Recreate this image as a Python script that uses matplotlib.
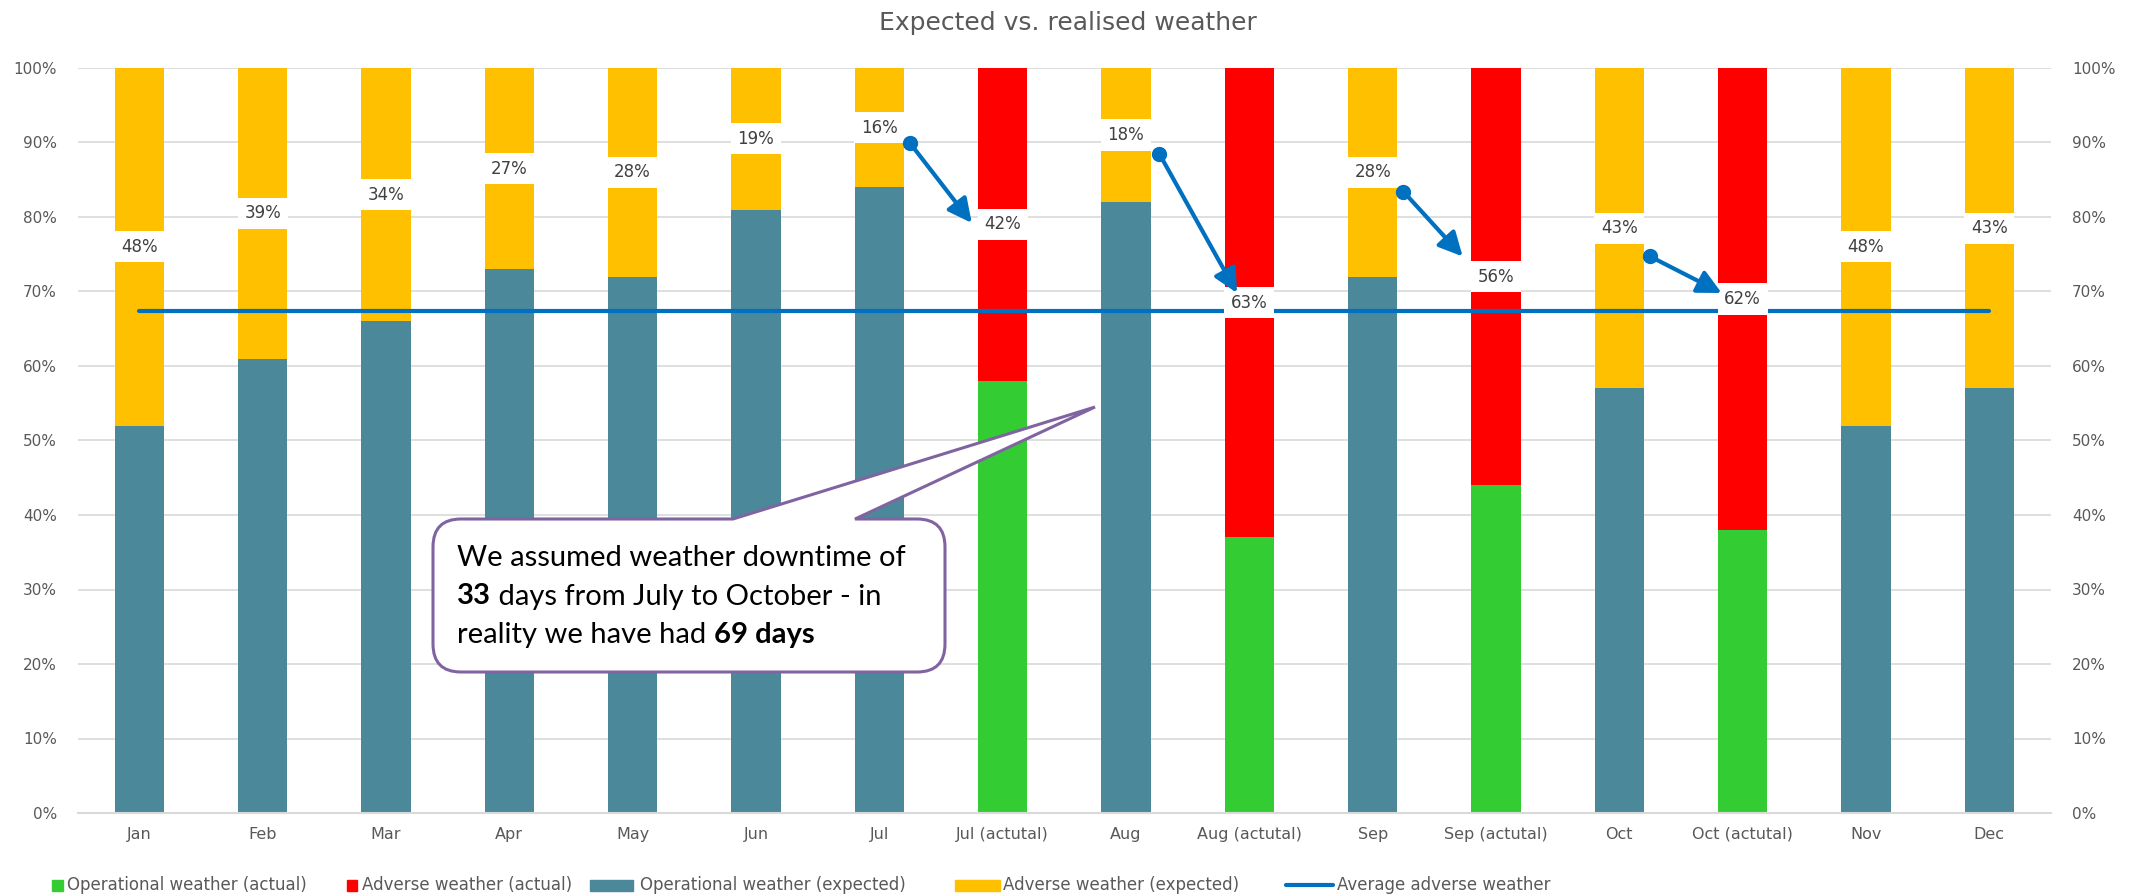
import matplotlib.pyplot as plt
import numpy as np
from matplotlib.patches import Rectangle, PathPatch
from matplotlib.path import Path
from matplotlib.lines import Line2D

categories = ['Jan', 'Feb', 'Mar', 'Apr', 'May', 'Jun', 'Jul', 'Jul (actutal)',
              'Aug', 'Aug (actutal)', 'Sep', 'Sep (actutal)', 'Oct',
              'Oct (actutal)', 'Nov', 'Dec']
adverse = [0.48, 0.39, 0.34, 0.27, 0.28, 0.19, 0.16, 0.42,
           0.18, 0.63, 0.28, 0.56, 0.43, 0.62, 0.48, 0.43]
actual = [c.endswith('(actutal)') for c in categories]
operational = [1 - a for a in adverse]

# hand drawn arrows: expected -> actual (data coords)
arrows = [(6.25, 0.899, 6.75, 0.792),
          (8.27, 0.885, 8.90, 0.698),
          (10.25, 0.834, 10.73, 0.747),
          (12.25, 0.747, 12.83, 0.698)]

C_OP, C_ADV = '#4A889A', '#FFC000'
C_OPA, C_ADVA = '#33CC33', '#FF0000'
C_LINE = '#0070C0'
GREY = '#595959'

W, H = 2135, 894
fig = plt.figure(figsize=(W / 100, H / 100), dpi=100)
ax = fig.add_axes([77.6 / W, 1 - 813 / H, (2051 - 77.6) / W, 745 / H])

def fpx(x, y):
    return x / W, 1 - y / H

x = np.arange(len(categories))
op_col = [C_OPA if a else C_OP for a in actual]
adv_col = [C_ADVA if a else C_ADV for a in actual]
ax.bar(x, operational, 0.4, color=op_col, zorder=2)
ax.bar(x, adverse, 0.4, bottom=operational, color=adv_col, zorder=2)

avg = 1 - np.mean([a for a, act in zip(adverse, actual) if not act])
ax.plot([x[0], x[-1]], [avg, avg], color=C_LINE, lw=3, zorder=3,
        solid_capstyle='round')

for i in x:
    ax.text(i, operational[i] + adverse[i] / 2, f'{adverse[i]:.0%}',
            ha='center', va='center', fontsize=12, color='#404040', zorder=4,
            bbox=dict(boxstyle='square,pad=0.4', fc='white', ec='none'))

for x0, y0, x1, y1 in arrows:
    ax.annotate('', xy=(x1, y1), xytext=(x0, y0), zorder=6,
                arrowprops=dict(arrowstyle='-|>,head_length=0.9,head_width=0.45',
                                mutation_scale=16, lw=3, color=C_LINE,
                                shrinkA=0, shrinkB=0))
    ax.plot(x0, y0, 'o', color=C_LINE, ms=10, zorder=6)

ax.set_xlim(-0.5, len(categories) - 0.5)
ax.set_ylim(0, 1)
ax.set_xticks(x)
ax.set_xticklabels(categories, fontsize=11.5, color=GREY)
yt = np.linspace(0, 1, 11)
ax.set_yticks(yt)
ax.set_yticklabels([f'{v:.0%}' for v in yt], fontsize=11, color=GREY)
ax.tick_params(axis='y', length=0, pad=15, labelright=True)
ax.tick_params(axis='x', length=0, pad=10)
ax.grid(axis='y', color='#D9D9D9', lw=1.2, zorder=0)
ax.set_axisbelow(True)
for s in ['top', 'left', 'right']:
    ax.spines[s].set_visible(False)
ax.spines['bottom'].set_color('#D9D9D9')
ax.spines['bottom'].set_linewidth(1.5)

fig.text(0.5, fpx(0, 23)[1], 'Expected vs. realised weather', ha='center',
         va='center', fontsize=18, color=GREY)

# legend, placed by hand like the original
leg = [('patch', C_OPA, 52, 11, 67, 'Operational weather (actual)'),
       ('patch', C_ADVA, 347, 10, 362, 'Adverse weather (actual)'),
       ('patch', C_OP, 590, 43, 640, 'Operational weather (expected)'),
       ('patch', C_ADV, 955, 45, 1003, 'Adverse weather (expected)'),
       ('line', C_LINE, 1286, 47, 1337, 'Average adverse weather')]
for kind, col, hx, hw, tx, lab in leg:
    if kind == 'patch':
        x0, y0 = fpx(hx, 891)
        fig.add_artist(Rectangle((x0, y0), hw / W, 11 / H, color=col,
                                 transform=fig.transFigure))
    else:
        xa, ya = fpx(hx, 885)
        xb, _ = fpx(hx + hw, 885)
        fig.add_artist(Line2D([xa, xb], [ya, ya], color=col, lw=3,
                              solid_capstyle='round', transform=fig.transFigure))
    fig.text(*fpx(tx, 885), lab, ha='left', va='center', fontsize=12, color=GREY)

# callout box
bx0, by0, bx1, by1, r = 433, 519, 945, 672, 28
tip = (1095, 407)
verts = [(bx0 + r, by0), (733, by0), tip, (855, by0), (bx1 - r, by0),
         (bx1, by0), (bx1, by0 + r), (bx1, by1 - r), (bx1, by1), (bx1 - r, by1),
         (bx0 + r, by1), (bx0, by1), (bx0, by1 - r), (bx0, by0 + r),
         (bx0, by0), (bx0 + r, by0), (bx0 + r, by0)]
codes = [Path.MOVETO, Path.LINETO, Path.LINETO, Path.LINETO, Path.LINETO,
         Path.CURVE3, Path.CURVE3, Path.LINETO, Path.CURVE3, Path.CURVE3,
         Path.LINETO, Path.CURVE3, Path.CURVE3, Path.LINETO,
         Path.CURVE3, Path.CURVE3, Path.CLOSEPOLY]
path = Path([fpx(*v) for v in verts], codes)
fig.add_artist(PathPatch(path, fc='white', ec='#8064A2', lw=2.2,
                         transform=fig.transFigure, zorder=10))

lines = [[('We assumed weather downtime of', 'normal')],
         [('33', 'bold'), (' days from July to October - in', 'normal')],
         [('reality we have had ', 'normal'), ('69 days', 'bold')]]
renderer = fig.canvas.get_renderer()
for k, pieces in enumerate(lines):
    cx = 457
    cy = 558 + k * 38.5
    for txt, wt in pieces:
        t = fig.text(*fpx(cx, cy), txt, ha='left', va='center', fontsize=21,
                     family='Lato', weight=wt, color='black', zorder=11)
        cx += t.get_window_extent(renderer).width

fig.savefig('out.png', dpi=100)
